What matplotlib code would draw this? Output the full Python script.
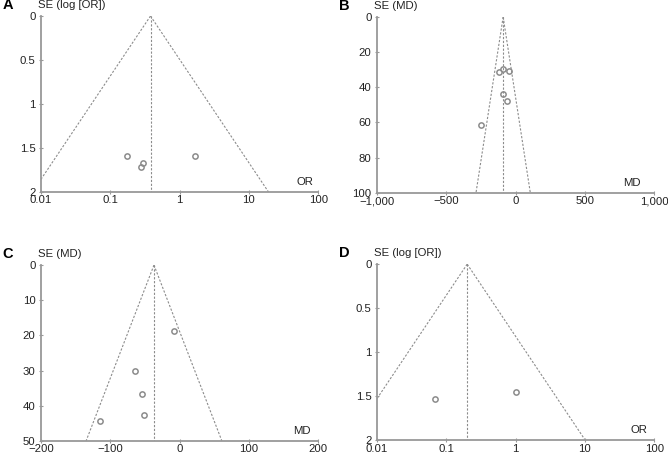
import numpy as np
import matplotlib
matplotlib.use("Agg")
import matplotlib.pyplot as plt

plt.rcParams['font.family'] = ['Liberation Sans', 'DejaVu Sans']

# panel A: OR, SE(log OR)
a_summary = 0.38
a_or = [0.175, 0.30, 0.278, 1.66]
a_se = [1.59, 1.667, 1.72, 1.59]

# panel B: MD, SE(MD)
b_summary = -90
b_md = [-121, -90, -49, -92, -59, -249]
b_se = [31.1, 29.4, 31.0, 44.0, 47.9, 61.7]

# panel C: MD, SE(MD)
c_summary = -37
c_md = [-7.7, -64, -55, -52, -115]
c_se = [18.7, 30.2, 36.6, 42.6, 44.2]

# panel D: OR, SE(log OR)
d_summary = 0.2
d_or = [0.069, 1.02]
d_se = [1.528, 1.45]

or_xticks = [0.01, 0.1, 1, 10, 100]
or_xlabels = ["0.01", "0.1", "1", "10", "100"]
or_yticks = [0, 0.5, 1, 1.5, 2]
or_ylabels = ["0", "0.5", "1", "1.5", "2"]

b_xticks = [-1000, -500, 0, 500, 1000]
b_xlabels = ["\u22121,000", "\u2212500", "0", "500", "1,000"]
b_yticks = [0, 20, 40, 60, 80, 100]

c_xticks = [-200, -100, 0, 100, 200]
c_xlabels = ["\u2212200", "\u2212100", "0", "100", "200"]
c_yticks = [0, 10, 20, 30, 40, 50]

grey = "#8c8c8c"
dash = (0, (2.0, 1.5))
fs = 8.2

fig = plt.figure(figsize=(6.68, 4.57), dpi=100)

def style(ax, xticks, xlabels, yticks, ylabels, ylab, xlab, xlab_x, letter):
    for s in ["top", "right"]:
        ax.spines[s].set_visible(False)
    for s in ["left", "bottom"]:
        ax.spines[s].set_color("#999999")
        ax.spines[s].set_linewidth(1.3)
    ax.set_xticks(xticks)
    ax.set_xticklabels(xlabels)
    ax.set_yticks(yticks)
    ax.set_yticklabels(ylabels)
    ax.minorticks_off()
    ax.tick_params(direction="inout", length=3, width=0.8, color="#999999",
                   labelsize=fs, labelcolor="#222222", pad=1.0)
    ax.tick_params(axis="y", pad=2.5)
    ax.text(-0.012, 1.035, ylab, transform=ax.transAxes, fontsize=fs,
            color="#222222", ha="left", va="bottom")
    ax.text(xlab_x, 0.03, xlab, transform=ax.transAxes, fontsize=fs,
            color="#222222", ha="right", va="bottom")
    ax.text(-0.138, 1.025, letter, transform=ax.transAxes, fontsize=10.5,
            fontweight="bold", ha="left", va="bottom")

def funnel_or(ax, summary, xs, ses):
    se_max = 2
    ls = np.log(summary)
    ax.plot([summary, np.exp(ls - 1.96 * se_max)], [0, se_max], color=grey, ls=dash, lw=0.8)
    ax.plot([summary, np.exp(ls + 1.96 * se_max)], [0, se_max], color=grey, ls=dash, lw=0.8)
    ax.plot([summary, summary], [0, se_max], color=grey, ls=dash, lw=0.8)
    ax.plot(xs, ses, "o", mfc="none", mec=grey, ms=3.8, mew=1.1)
    ax.set_xscale("log")
    ax.set_xlim(0.01, 100)
    ax.set_ylim(2, 0)

def funnel_md(ax, summary, xs, ses, se_max, xlim):
    ax.plot([summary, summary - 1.96 * se_max], [0, se_max], color=grey, ls=dash, lw=0.8)
    ax.plot([summary, summary + 1.96 * se_max], [0, se_max], color=grey, ls=dash, lw=0.8)
    ax.plot([summary, summary], [0, se_max], color=grey, ls=dash, lw=0.8)
    ax.plot(xs, ses, "o", mfc="none", mec=grey, ms=3.8, mew=1.1)
    ax.set_xlim(*xlim)
    ax.set_ylim(se_max, 0)

w = 0.415
h = 0.385
axA = fig.add_axes([0.0614, 0.580, w, h])
funnel_or(axA, a_summary, a_or, a_se)
style(axA, or_xticks, or_xlabels, or_yticks, or_ylabels, "SE (log [OR])", "OR", 0.982, "A")

axB = fig.add_axes([0.5644, 0.578, w, h])
funnel_md(axB, b_summary, b_md, b_se, 100, (-1000, 1000))
style(axB, b_xticks, b_xlabels, b_yticks, [str(v) for v in b_yticks], "SE (MD)", "MD", 0.95, "B")

axC = fig.add_axes([0.0614, 0.035, w, h])
funnel_md(axC, c_summary, c_md, c_se, 50, (-200, 200))
style(axC, c_xticks, c_xlabels, c_yticks, [str(v) for v in c_yticks], "SE (MD)", "MD", 0.971, "C")

axD = fig.add_axes([0.5644, 0.037, w, h])
funnel_or(axD, d_summary, d_or, d_se)
style(axD, or_xticks, or_xlabels, or_yticks, or_ylabels, "SE (log [OR])", "OR", 0.977, "D")

fig.savefig("out.png", dpi=100)
